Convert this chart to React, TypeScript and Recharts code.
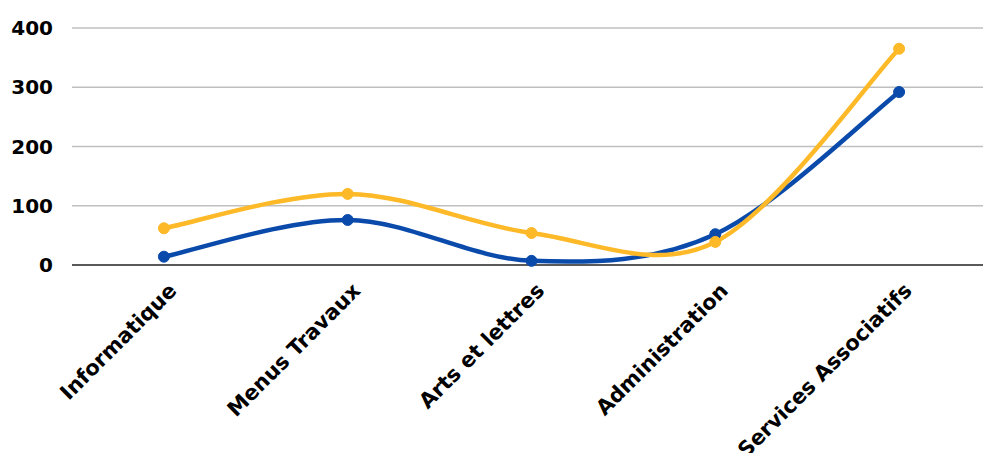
import React from 'react';
import { LineChart, Line, XAxis, YAxis, CartesianGrid } from 'recharts';

const categories = ['Informatique', 'Menus Travaux', 'Arts et lettres', 'Administration', 'Services Associatifs'];
const blueSeries = [14, 76, 7, 52, 292];
const yellowSeries = [62, 120, 54, 39, 365];
const yTicks = [0, 100, 200, 300, 400];

const data = categories.map((name, i) => ({ name, blue: blueSeries[i], yellow: yellowSeries[i] }));

const FONT = '"DejaVu Sans", sans-serif';

// Excel-style smoothed line (Catmull-Rom with 1/6 tangents)
const smoothCurve = (context: any) => {
  let xs: number[] = [];
  let ys: number[] = [];
  return {
    areaStart() {},
    areaEnd() {},
    lineStart() {
      xs = [];
      ys = [];
    },
    point(x: number, y: number) {
      xs.push(+x);
      ys.push(+y);
    },
    lineEnd() {
      const n = xs.length;
      if (!n) return;
      context.moveTo(xs[0], ys[0]);
      for (let i = 0; i < n - 1; i++) {
        const i0 = Math.max(i - 1, 0);
        const i3 = Math.min(i + 2, n - 1);
        const c1x = xs[i] + (xs[i + 1] - xs[i0]) / 6;
        const c1y = ys[i] + (ys[i + 1] - ys[i0]) / 6;
        const c2x = xs[i + 1] - (xs[i3] - xs[i]) / 6;
        const c2y = ys[i + 1] - (ys[i3] - ys[i]) / 6;
        context.bezierCurveTo(c1x, c1y, c2x, c2y, xs[i + 1], ys[i + 1]);
      }
    },
  };
};

const XTick = (props: any) => {
  const { x, y, payload } = props;
  return (
    <g transform={`translate(${x + 14},${y + 27})`}>
      <text
        x={0}
        y={0}
        textAnchor="end"
        transform="rotate(-45)"
        fill="#000"
        fontFamily={FONT}
        fontWeight={700}
        fontSize={21}
      >
        {payload.value}
      </text>
    </g>
  );
};

const App: React.FC = () => {
  return (
    <div style={{ position: 'absolute', left: 0, top: 0, width: 983, height: 453, overflow: 'hidden', background: '#fff' }}>
      <LineChart width={1000} height={453} data={data} margin={{ top: 28, right: 9, left: 0, bottom: 0 }}>
        <CartesianGrid vertical={false} stroke="#bfbfbf" strokeWidth={1.5} />
        <XAxis
          dataKey="name"
          scale="band"
          interval={0}
          height={188}
          tickLine={false}
          tickSize={0}
          tickMargin={0}
          axisLine={{ stroke: '#595959', strokeWidth: 2 }}
          tick={<XTick />}
        />
        <YAxis
          domain={[0, 400]}
          ticks={yTicks}
          width={72}
          tickLine={false}
          axisLine={false}
          tickSize={0}
          tickMargin={19}
          tick={{ fill: '#000', fontFamily: FONT, fontWeight: 700, fontSize: 20 }}
        />
        <Line
          dataKey="blue"
          type={smoothCurve as any}
          stroke="#0a4aab"
          strokeWidth={4.5}
          dot={{ r: 5.5, fill: '#0a4aab', stroke: '#0a4aab', strokeWidth: 1 }}
          isAnimationActive={false}
        />
        <Line
          dataKey="yellow"
          type={smoothCurve as any}
          stroke="#fdb927"
          strokeWidth={4.5}
          dot={{ r: 5.5, fill: '#fdb927', stroke: '#fdb927', strokeWidth: 1 }}
          isAnimationActive={false}
        />
      </LineChart>
    </div>
  );
};

export default App;
